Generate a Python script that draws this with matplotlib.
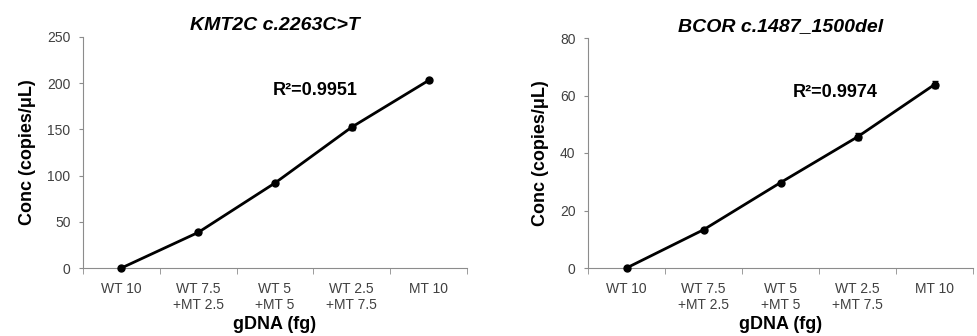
import numpy as np
import matplotlib
matplotlib.use("Agg")
import matplotlib.pyplot as plt

plt.rcParams["font.family"] = ["Liberation Sans", "DejaVu Sans"]

categories = ["WT 10", "WT 7.5\n+MT 2.5", "WT 5\n+MT 5", "WT 2.5\n+MT 7.5", "MT 10"]

kmt2c_conc = [0, 38.5, 92, 152.5, 203]
kmt2c_err = [0.5, 1.5, 1.5, 3.5, 1.5]

bcor_conc = [0, 13.3, 29.7, 45.6, 63.8]
bcor_err = [0.2, 0.5, 0.5, 1.2, 1.2]

panels = [
    ("KMT2C c.2263C>T", kmt2c_conc, kmt2c_err, 250, 50, "R\u00b2=0.9951", 1.97, 192),
    ("BCOR c.1487_1500del", bcor_conc, bcor_err, 80, 20, "R\u00b2=0.9974", 2.16, 61),
]
positions = [
    [83 / 977, 68 / 336, 384 / 977, 231 / 336],
    [588 / 977, 68 / 336, 385 / 977, 230 / 336],
]

fig = plt.figure(figsize=(9.77, 3.36), dpi=100)
tick_color = "#404040"
spine_color = "#8c8c8c"

for (title, vals, errs, ymax, ystep, r2, tx, ty), pos in zip(panels, positions):
    ax = fig.add_axes(pos)
    x = np.arange(len(categories))
    ax.errorbar(x, vals, yerr=errs, color="black", lw=2, marker="o", ms=5,
                capsize=2, elinewidth=1, clip_on=False, zorder=3)
    ax.set_xlim(-0.5, len(categories) - 0.5)
    ax.set_ylim(0, ymax)
    ax.set_yticks(np.arange(0, ymax + 1, ystep))
    ax.set_xticks(x)
    ax.set_xticklabels(categories, linespacing=1.15)
    ax.tick_params(axis="x", length=0, labelsize=10, colors=tick_color, pad=10)
    ax.set_xticks(np.arange(len(categories) + 1) - 0.5, minor=True)
    ax.tick_params(axis="x", which="minor", length=4, color=spine_color, direction="out")
    ax.tick_params(axis="y", length=3, labelsize=10, colors=tick_color, color=spine_color, pad=6)
    for side in ["top", "right"]:
        ax.spines[side].set_visible(False)
    for side in ["left", "bottom"]:
        ax.spines[side].set_color(spine_color)
        ax.spines[side].set_linewidth(0.8)
    ax.set_title(title, fontsize=14, fontweight="bold", style="italic", pad=5)
    ax.set_ylabel("Conc (copies/\u03bcL)", fontsize=13, fontweight="bold", labelpad=8)
    ax.set_xlabel("gDNA (fg)", fontsize=13, fontweight="bold", labelpad=3)
    ax.text(tx, ty, r2, fontsize=13, fontweight="bold", va="center", ha="left")

fig.savefig("out.png", dpi=100)
